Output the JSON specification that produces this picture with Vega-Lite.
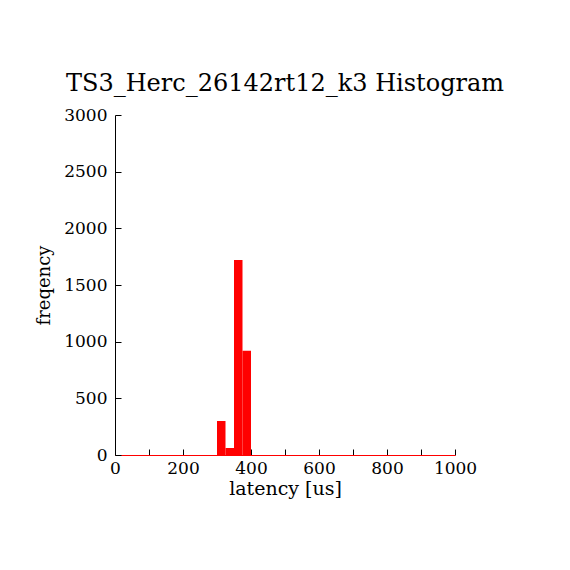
{
  "$schema": "https://vega.github.io/schema/vega-lite/v6.json",
  "width": 340,
  "height": 340,
  "autosize": "none",
  "padding": {"left": 115, "top": 115, "right": 115, "bottom": 115},
  "background": "white",
  "title": {
    "text": "TS3_Herc_26142rt12_k3 Histogram",
    "font": "DejaVu Serif",
    "fontSize": 24,
    "fontWeight": "normal",
    "color": "black",
    "anchor": "middle",
    "offset": 10
  },
  "data": {
    "values": [
      {"start": 300, "end": 325, "count": 300},
      {"start": 325, "end": 350, "count": 62},
      {"start": 350, "end": 375, "count": 1720},
      {"start": 375, "end": 400, "count": 920}
    ]
  },
  "mark": {"type": "rect", "color": "red"},
  "encoding": {
    "x": {
      "field": "start",
      "type": "quantitative",
      "scale": {"domain": [0, 1000], "nice": false},
      "axis": {
        "title": "latency [us]",
        "values": [0, 100, 200, 300, 400, 500, 600, 700, 800, 900, 1000],
        "format": "d",
        "labelExpr": "datum.value % 200 === 0 ? datum.label : ''",
        "grid": false,
        "tickSize": -6,
        "tickColor": "black",
        "domainColor": "red",
        "labelFont": "DejaVu Serif",
        "labelFontSize": 17,
        "labelColor": "black",
        "labelPadding": 11,
        "labelFlush": false,
        "labelOverlap": false,
        "titleFont": "DejaVu Serif",
        "titleFontSize": 19,
        "titleFontWeight": "normal",
        "titleColor": "black",
        "titlePadding": 3,
        "encode": {
          "ticks": {
            "update": {
              "y2": {"signal": "datum.value % 200 === 0 ? -6 : -2"}
            }
          }
        }
      }
    },
    "x2": {"field": "end"},
    "y": {
      "field": "count",
      "type": "quantitative",
      "scale": {"domain": [0, 3000], "nice": false},
      "axis": {
        "title": "freqency",
        "values": [0, 500, 1000, 1500, 2000, 2500, 3000],
        "format": "d",
        "grid": false,
        "tickSize": -6,
        "tickColor": "black",
        "domainColor": "black",
        "labelFont": "DejaVu Serif",
        "labelFontSize": 17,
        "labelColor": "black",
        "labelPadding": 14,
        "labelFlush": false,
        "labelOverlap": false,
        "titleFont": "DejaVu Serif",
        "titleFontSize": 18,
        "titleFontWeight": "normal",
        "titleColor": "black",
        "titlePadding": 10
      }
    },
    "y2": {"datum": 0}
  },
  "config": {"view": {"stroke": null}}
}
